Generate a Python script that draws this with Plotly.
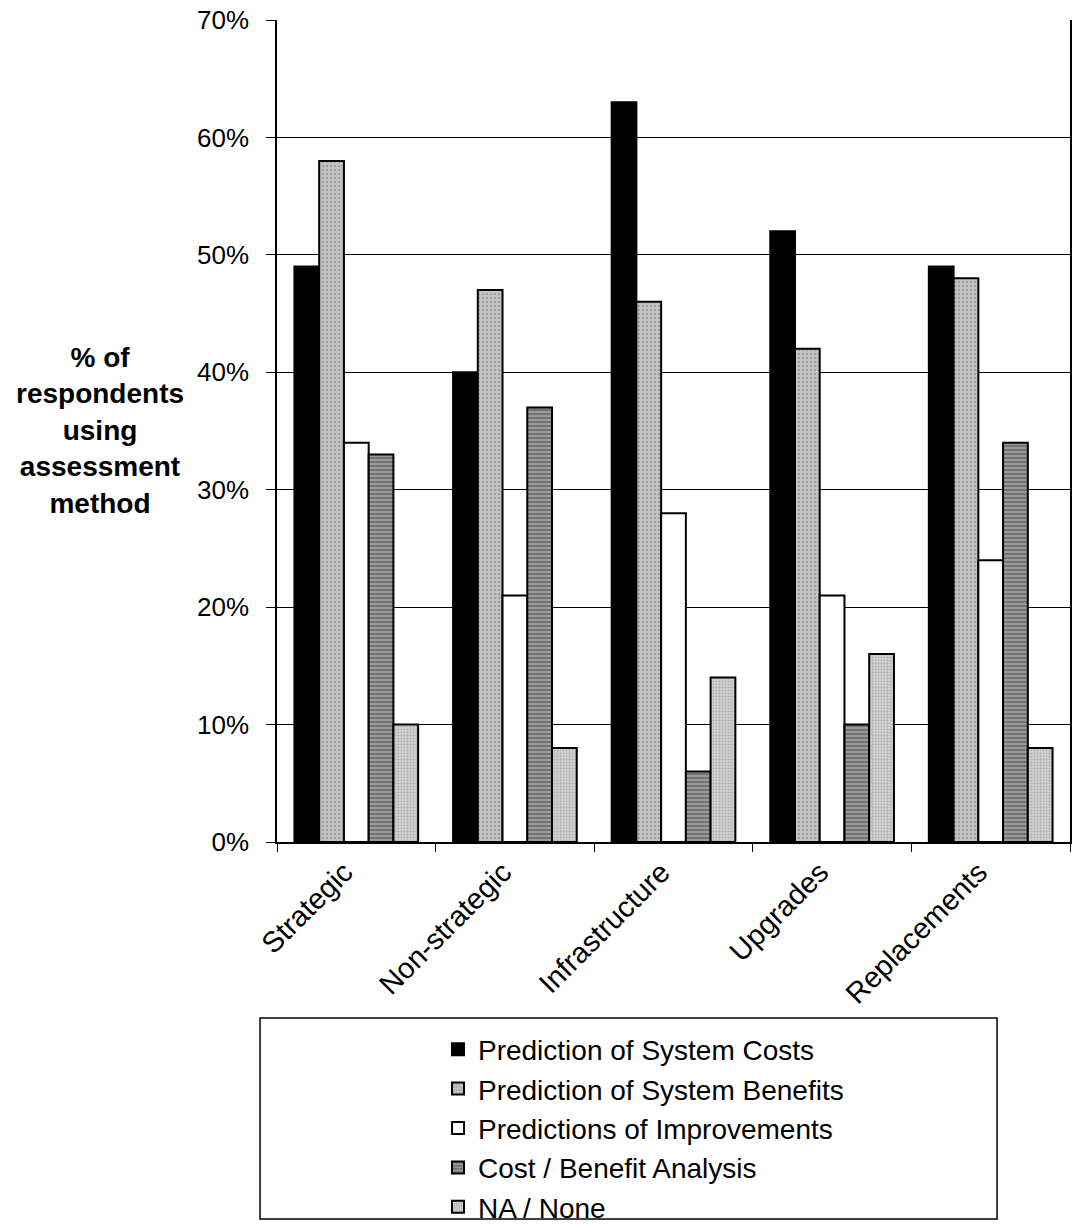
import plotly.graph_objects as go

categories = ["Strategic", "Non-strategic", "Infrastructure", "Upgrades", "Replacements"]

series_names = [
    "Prediction of System Costs",
    "Prediction of System Benefits",
    "Predictions of Improvements",
    "Cost / Benefit Analysis",
    "NA / None",
]

costs = [0.49, 0.40, 0.63, 0.52, 0.49]
benefits = [0.58, 0.47, 0.46, 0.42, 0.48]
improvements = [0.34, 0.21, 0.28, 0.21, 0.24]
cost_benefit = [0.33, 0.37, 0.06, 0.10, 0.34]
na_none = [0.10, 0.08, 0.14, 0.16, 0.08]

y_ticks = [0, 0.1, 0.2, 0.3, 0.4, 0.5, 0.6, 0.7]
y_tick_labels = ["0%", "10%", "20%", "30%", "40%", "50%", "60%", "70%"]

FONT = "Liberation Sans, Arial, sans-serif"

styles = [
    dict(color="#000000"),
    dict(color="#c4c4c4", pattern=dict(shape=".", fgcolor="#7a7a7a", bgcolor="#c4c4c4", size=4, solidity=0.35)),
    dict(color="#ffffff"),
    dict(color="#8c8c8c", pattern=dict(shape="-", fgcolor="#3a3a3a", bgcolor="#9a9a9a", size=4, solidity=0.4)),
    dict(color="#cfcfcf", pattern=dict(shape=".", fgcolor="#858585", bgcolor="#d2d2d2", size=3, solidity=0.3)),
]

fig = go.Figure()
for i, (name, vals, st) in enumerate(zip(series_names,
                                         [costs, benefits, improvements, cost_benefit, na_none],
                                         styles)):
    marker = dict(st)
    marker["line"] = dict(color="#000000", width=2)
    fig.add_trace(go.Bar(
        x=categories, y=vals, name=name, marker=marker,
        legendgroup=f"g{i}",
    ))

fig.update_layout(
    width=1073, height=1232,
    margin=dict(l=277, r=1, t=20, b=381),
    paper_bgcolor="white", plot_bgcolor="white",
    barmode="group", bargap=0.22, bargroupgap=0,
    font=dict(family=FONT, size=26, color="#000000"),
    showlegend=True,
    legend=dict(
        x=0.203, y=-0.222, xanchor="left", yanchor="top",
        font=dict(family=FONT, size=28, color="#000000"),
        bgcolor="rgba(0,0,0,0)", borderwidth=0,
        tracegroupgap=0, itemwidth=30,
    ),
)

fig.update_xaxes(
    showgrid=False, showline=True, linecolor="#000000", linewidth=1.5,
    ticks="outside", tickson="boundaries", ticklen=8, tickcolor="#000000",
    tickangle=-45, ticklabelshift=-12, tickfont=dict(family=FONT, size=29),
)
fig.update_yaxes(
    range=[0, 0.7], tickvals=y_ticks, ticktext=y_tick_labels,
    showgrid=True, gridcolor="#000000", gridwidth=1,
    showline=True, linecolor="#000000", linewidth=1.5, mirror=True,
    ticks="outside", ticklen=9, tickcolor="#000000", ticklabelstandoff=12,
    tickfont=dict(family=FONT, size=26), zeroline=False,
)

# Axis title, drawn as a bold multi-line annotation to the left of the ticks
fig.add_annotation(
    xref="paper", yref="paper", x=-0.2226, y=0.5006, xanchor="center", yanchor="middle",
    text="<b>% of<br>respondents<br>using<br>assessment<br>method</b>",
    showarrow=False, align="center",
    font=dict(family=FONT, size=28, color="#000000"),
)

# Legend frame
fig.add_shape(
    type="rect", xref="paper", yref="paper",
    x0=-0.0214, x1=0.908, y0=-0.2142, y1=-0.4585,
    line=dict(color="#000000", width=1.5), fillcolor="rgba(0,0,0,0)",
)

fig.write_html("out.html")
